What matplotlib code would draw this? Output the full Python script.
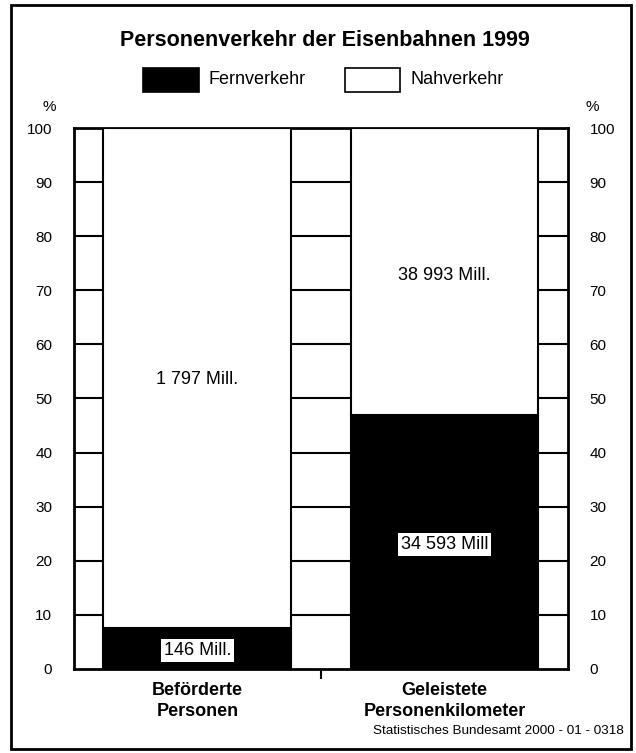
import matplotlib.pyplot as plt
from matplotlib.patches import Rectangle

# Data
categories = ['Beförderte\nPersonen', 'Geleistete\nPersonenkilometer']
fern = [146, 34593]      # Mill.
nah = [1797, 38993]      # Mill.
fern_labels = ['146 Mill.', '34 593 Mill']
nah_labels = ['1 797 Mill.', '38 993 Mill.']

fern_pct = [f / (f + n) * 100 for f, n in zip(fern, nah)]
nah_pct = [100 - p for p in fern_pct]

plt.rcParams['font.family'] = ['Liberation Sans', 'DejaVu Sans']

fig = plt.figure(figsize=(6.36, 7.53), dpi=100)
ax = fig.add_axes([0.116, 0.1116, 0.777, 0.7184])

x = [0, 1]
w = 0.76
ax.bar(x, fern_pct, width=w, color='black', edgecolor='black', linewidth=1.5, zorder=3)
ax.bar(x, nah_pct, width=w, bottom=fern_pct, color='white', edgecolor='black', linewidth=1.5, zorder=3)

for yv in range(10, 100, 10):
    ax.axhline(yv, color='black', linewidth=1.5, zorder=1)

# value labels
ax.text(x[0], 3.4, fern_labels[0], ha='center', va='center', fontsize=13, zorder=5,
        bbox=dict(facecolor='white', edgecolor='none', pad=2))
ax.text(x[1], 23.0, fern_labels[1], ha='center', va='center', fontsize=13, zorder=5,
        bbox=dict(facecolor='white', edgecolor='none', pad=2))
ax.text(x[0], 53.5, nah_labels[0], ha='center', va='center', fontsize=13, zorder=5)
ax.text(x[1], 72.7, nah_labels[1], ha='center', va='center', fontsize=13, zorder=5)

ax.set_xlim(-0.5, 1.5)
ax.set_ylim(0, 100)
ax.set_yticks(range(0, 101, 10))
ax.tick_params(axis='y', left=False, right=False, labelleft=True, labelright=True,
               labelsize=11, pad=12)
ax.set_xticks([0.5])
ax.set_xticklabels([''])
ax.tick_params(axis='x', length=7, width=1.5, direction='out')
for s in ax.spines.values():
    s.set_linewidth(2)

for i, c in enumerate(categories):
    ax.text(x[i], -2.4, c, ha='center', va='top', fontsize=13, fontweight='bold',
            linespacing=1.3)

ax.text(-0.6, 102.5, '%', ha='center', va='bottom', fontsize=11)
ax.text(1.6, 102.5, '%', ha='center', va='bottom', fontsize=11)

# Title and legend
fig.text(325 / 636, 1 - 40 / 753, 'Personenverkehr der Eisenbahnen 1999', ha='center', va='center',
         fontsize=15.5, fontweight='bold')
fig.patches.append(Rectangle((143 / 636, 1 - 92 / 753), 56 / 636, 24 / 753,
                             transform=fig.transFigure, facecolor='black',
                             edgecolor='black', linewidth=1.2))
fig.text(208 / 636, 1 - 80 / 753, 'Fernverkehr', ha='left', va='center', fontsize=13)
fig.patches.append(Rectangle((345 / 636, 1 - 92 / 753), 55 / 636, 24 / 753,
                             transform=fig.transFigure, facecolor='white',
                             edgecolor='black', linewidth=1.2))
fig.text(410 / 636, 1 - 80 / 753, 'Nahverkehr', ha='left', va='center', fontsize=13)

fig.text(624 / 636, 1 - 731 / 753, 'Statistisches Bundesamt 2000 - 01 - 0318',
         ha='right', va='center', fontsize=9.7)

# Outer frame
fig.patches.append(Rectangle((11 / 636, 4 / 753), 620 / 636, 744 / 753,
                             transform=fig.transFigure, facecolor='none',
                             edgecolor='black', linewidth=2))

fig.savefig('out.png', dpi=100)
